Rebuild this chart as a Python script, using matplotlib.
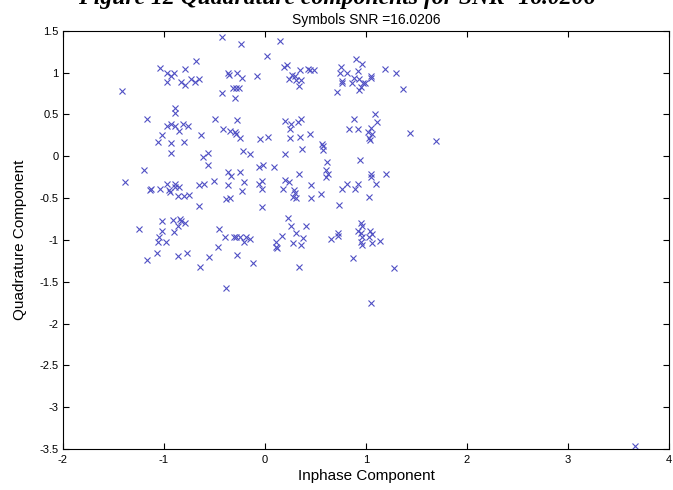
import matplotlib
matplotlib.use("Agg")
import matplotlib.pyplot as plt
import numpy as np

plt.rcParams['font.family'] = ['Liberation Sans', 'DejaVu Sans']

# received symbols (inphase, quadrature)
inphase = [
    -0.43, -0.24, 0.02, -1.04, -0.68, -0.79, -0.97, -0.90, -0.93, -0.37,
    -0.28, -0.08, -0.23, -0.36, -0.97, -0.83, -0.79, -0.73, -0.69, -0.65,
    -1.42, -0.43, -0.32, -0.29, -0.26, -0.30, -0.89, -0.89, -1.17, -0.49,
    -0.28, -0.97, -0.93, -0.89, -0.81, -0.76, -0.85, -0.63, -0.42, -0.35,
    -0.30, -0.29, -0.25, -0.05, 0.03, -1.02, -1.06, -0.93, -0.80, -0.93,
    -0.56, -0.61, -0.22, -0.15, -0.56, -1.20, -0.37, -0.25, -0.06, -0.02,
    0.15, 0.19, 0.22, 0.27, 0.30, 0.35, 0.43, 0.45, 0.49, 0.24,
    0.31, 0.36, 0.34, 0.75, 0.90, 0.96, 0.74, 0.81, 0.92, 0.88,
    0.76, 0.76, 0.86, 0.93, 0.97, 0.99, 1.05, 1.05, 0.95, 0.93,
    0.71, 1.19, 1.30, 1.37, 0.20, 0.26, 0.33, 0.36, 0.25, 0.45,
    0.25, 0.35, 0.37, 0.20, 0.56, 0.57, 0.57, 0.61, 0.09, 0.34,
    0.60, 0.62, 0.88, 0.83, 0.92, 1.09, 1.11, 1.05, 1.02, 1.06,
    1.03, 1.04, 1.44, 1.69, 0.94, 1.05, 1.20,
    -0.34, -1.39, -1.13, -1.14, -1.04, -0.97, -0.89, -0.89, -0.95, -0.94,
    -0.85, -0.86, -0.80, -0.75, -0.65, -0.60, -0.50, -0.37, -0.21, -0.23,
    -0.06, -0.03, -0.03, -0.65, -0.39, -0.35, -0.03, -1.02, -1.25, -0.91,
    -0.84, -0.83, -0.79, -0.86, -1.02, -0.90, -1.05, -1.06, -0.98, -1.07,
    -1.17, -0.86, -0.77, -0.64, -0.46, -0.40, -0.31, -0.29, -0.25, -0.19,
    -0.15, -0.21, -0.47, -0.55, -0.28, -0.12, -0.39,
    0.60, 1.05, 0.20, 0.24, 0.18, 0.29, 0.30, 0.28, 0.31, 0.46,
    0.46, 0.55, 0.76, 0.81, 0.89, 0.92, 1.10, 1.03, 0.73, 0.23,
    0.26, 0.41, 0.31, 0.17, 0.38, 0.11, 0.11, 0.12, 0.28, 0.36,
    0.65, 0.72, 0.72, 0.95, 0.96, 0.92, 0.95, 0.96, 0.95, 0.96,
    1.04, 1.06, 1.03, 1.06, 1.14, 0.87, 0.34, 1.28, 1.05, 3.66,
]
quadrature = [
    1.43, 1.34, 1.20, 1.06, 1.14, 1.04, 1.00, 0.99, 0.96, 1.00,
    1.00, 0.96, 0.93, 0.97, 0.89, 0.89, 0.85, 0.92, 0.89, 0.92,
    0.78, 0.76, 0.82, 0.81, 0.81, 0.70, 0.58, 0.52, 0.44, 0.44,
    0.43, 0.36, 0.38, 0.36, 0.38, 0.36, 0.30, 0.25, 0.32, 0.30,
    0.29, 0.26, 0.22, 0.21, 0.23, 0.25, 0.17, 0.16, 0.17, 0.04,
    0.04, -0.01, 0.06, 0.03, -0.11, -0.17, -0.19, -0.19, -0.13, -0.10,
    1.38, 1.07, 1.09, 0.97, 0.96, 1.03, 1.04, 1.03, 1.03, 0.92,
    0.91, 0.91, 0.84, 1.07, 1.16, 1.10, 0.99, 0.99, 1.02, 0.94,
    0.90, 0.87, 0.87, 0.92, 0.88, 0.88, 0.96, 0.94, 0.83, 0.79,
    0.77, 1.04, 0.99, 0.80, 0.42, 0.39, 0.41, 0.44, 0.32, 0.27,
    0.22, 0.23, 0.09, 0.03, 0.15, 0.12, 0.07, -0.07, -0.13, -0.21,
    -0.17, -0.21, 0.44, 0.32, 0.32, 0.50, 0.41, 0.34, 0.29, 0.27,
    0.22, 0.19, 0.28, 0.18, -0.05, -0.21, -0.21,
    -0.24, -0.31, -0.39, -0.41, -0.39, -0.33, -0.33, -0.37, -0.41, -0.43,
    -0.37, -0.48, -0.47, -0.46, -0.34, -0.33, -0.30, -0.35, -0.31, -0.42,
    -0.33, -0.30, -0.39, -0.60, -0.51, -0.50, -0.61, -0.78, -0.87, -0.76,
    -0.75, -0.78, -0.80, -0.84, -0.90, -0.91, -0.96, -1.02, -1.03, -1.16,
    -1.24, -1.19, -1.16, -1.33, -0.87, -0.97, -0.96, -0.96, -0.96, -0.97,
    -0.99, -1.03, -1.09, -1.20, -1.18, -1.28, -1.57,
    -0.25, -0.25, -0.28, -0.31, -0.39, -0.41, -0.44, -0.49, -0.50, -0.34,
    -0.50, -0.45, -0.39, -0.33, -0.39, -0.33, -0.33, -0.49, -0.58, -0.74,
    -0.84, -0.83, -0.92, -0.95, -0.98, -1.03, -1.08, -1.10, -1.04, -1.06,
    -0.99, -0.92, -0.95, -0.80, -0.83, -0.90, -0.92, -0.96, -1.02, -1.06,
    -0.90, -0.93, -0.96, -1.04, -1.01, -1.22, -1.32, -1.34, -1.76, -3.46,
]

xticks = [-2, -1, 0, 1, 2, 3, 4]
yticks = [1.5, 1, 0.5, 0, -0.5, -1, -1.5, -2, -2.5, -3, -3.5]

fig = plt.figure(figsize=(6.73, 4.90), dpi=100)
ax = fig.add_axes([0.0936, 0.0837, 0.9004, 0.8536])

ax.plot(inphase, quadrature, 'x', color='#5050c4', markersize=4, markeredgewidth=0.8)

ax.set_xlim(-2, 4)
ax.set_ylim(-3.5, 1.5)
ax.set_xticks(xticks)
ax.set_yticks(yticks)
ax.set_xticklabels([str(t) for t in xticks])
ax.set_yticklabels(['%g' % t for t in yticks])
ax.tick_params(direction='in', top=True, right=True, labelsize=8, length=4, width=0.8)
ax.tick_params(axis='x', pad=4)
ax.tick_params(axis='y', pad=3)
for s in ax.spines.values():
    s.set_linewidth(0.8)

ax.set_xlabel('Inphase Component', fontsize=11, labelpad=3)
ax.set_ylabel('Quadrature Component', fontsize=11, labelpad=9)
ax.set_title('Symbols SNR =16.0206', fontsize=10, pad=5)

# figure caption from the source document, cut off at the top edge
fig.text(0.5, 0.991, 'Figure 12 Quadrature components for SNR=16.0206',
         ha='center', va='baseline', fontsize=17, fontweight='bold',
         fontstyle='italic', family='Liberation Serif')

fig.savefig('out.png', dpi=100)
